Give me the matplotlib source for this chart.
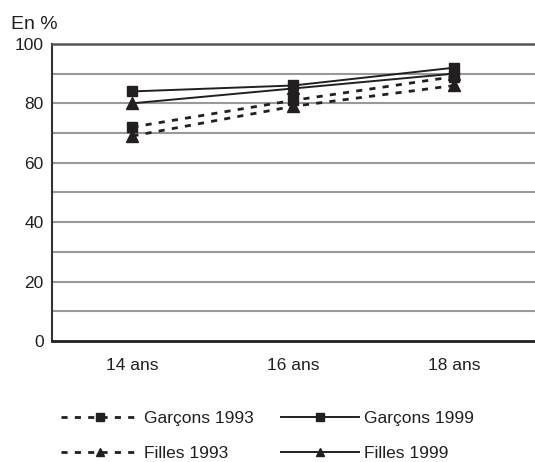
import matplotlib.pyplot as plt
from matplotlib.lines import Line2D

plt.rcParams['font.family'] = ['Liberation Sans', 'DejaVu Sans']

# data
ages = ["14 ans", "16 ans", "18 ans"]
garcons_1993 = [72, 81, 89]
filles_1993 = [69, 79, 86]
garcons_1999 = [84, 86, 92]
filles_1999 = [80, 85, 90]

ink = "#231f20"
x = list(range(len(ages)))

fig = plt.figure(figsize=(5.35, 4.62), dpi=100)
ax = fig.add_axes([0.097, 0.262, 0.903, 0.643])

# grid every 10
for v in range(10, 100, 10):
    ax.axhline(v, color="#999999", lw=1.5, zorder=1)

dash = (0, (2.2, 2.6))
ax.plot(x, garcons_1993, color=ink, lw=2, ls=dash, marker="s", ms=7, zorder=3)
ax.plot(x, filles_1993, color=ink, lw=2, ls=dash, marker="^", ms=8, zorder=3)
ax.plot(x, garcons_1999, color=ink, lw=1.4, marker="s", ms=7, zorder=3)
ax.plot(x, filles_1999, color=ink, lw=1.4, marker="^", ms=8, zorder=3)

ax.set_xlim(-0.5, 2.5)
ax.set_ylim(0, 100)
ax.set_yticks(range(0, 101, 20))
ax.set_xticks(x)
ax.set_xticklabels(ages)
ax.tick_params(length=0, labelsize=12.5, colors=ink)
ax.tick_params(axis="x", pad=12)
ax.tick_params(axis="y", pad=6)

ax.spines["right"].set_visible(False)
ax.spines["top"].set_color("#555555")
ax.spines["top"].set_linewidth(1.8)
ax.spines["left"].set_color("#333333")
ax.spines["left"].set_linewidth(1.5)
ax.spines["bottom"].set_color(ink)
ax.spines["bottom"].set_linewidth(2)

fig.text(0.021, 0.947, "En %", fontsize=14, color=ink, va="center")

handles = [
    Line2D([], [], color=ink, lw=2, ls=dash, marker="s", ms=6),
    Line2D([], [], color=ink, lw=2, ls=dash, marker="^", ms=6),
    Line2D([], [], color=ink, lw=1.4, marker="s", ms=6),
    Line2D([], [], color=ink, lw=1.4, marker="^", ms=6),
]
labels = ["Garçons 1993", "Filles 1993", "Garçons 1999", "Filles 1999"]
fig.legend(handles, labels, ncol=2, loc="center", bbox_to_anchor=(0.5, 0.057),
           frameon=False, fontsize=12.5, handlelength=4.5, handletextpad=0.25,
           columnspacing=1.6, labelspacing=1.15, labelcolor=ink)

fig.savefig("out.png", dpi=100)
